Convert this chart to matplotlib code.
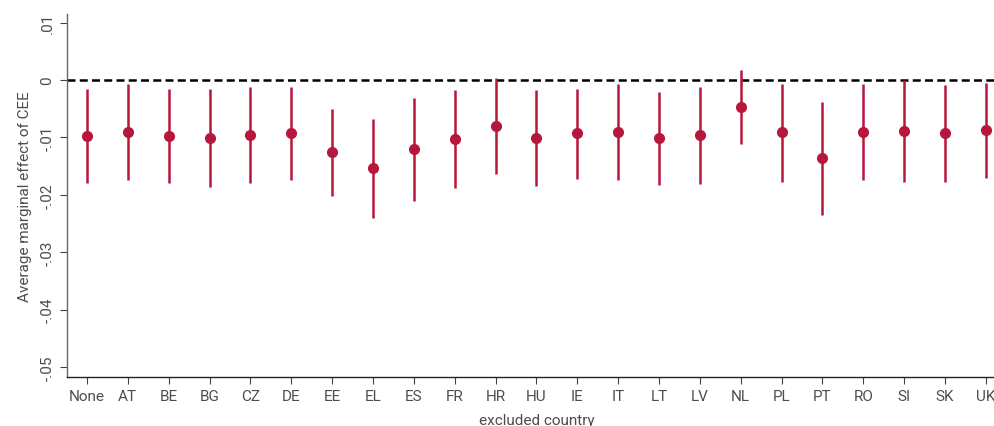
import matplotlib.pyplot as plt

plt.rcParams['font.family'] = ['Roboto', 'DejaVu Sans']

countries = ['None', 'AT', 'BE', 'BG', 'CZ', 'DE', 'EE', 'EL', 'ES', 'FR', 'HR', 'HU',
             'IE', 'IT', 'LT', 'LV', 'NL', 'PL', 'PT', 'RO', 'SI', 'SK', 'UK']
ame = [-0.00977, -0.00902, -0.00972, -0.01012, -0.00955, -0.0092, -0.01256, -0.01535,
       -0.01198, -0.01018, -0.00797, -0.01012, -0.0093, -0.00896, -0.01007, -0.0096,
       -0.0046, -0.00913, -0.01366, -0.00902, -0.0089, -0.0092, -0.00878]
ci_hi = [-0.00159, -0.00059, -0.00159, -0.00159, -0.00112, -0.00112, -0.00505, -0.00681,
         -0.00315, -0.00176, 0.00033, -0.00176, -0.00159, -0.00071, -0.0021, -0.00124,
         0.00172, -0.00071, -0.00385, -0.00071, 0.0, -0.00089, -0.00054]
ci_lo = [-0.0179, -0.01744, -0.0179, -0.0186, -0.0179, -0.01744, -0.0202, -0.0240,
         -0.02104, -0.01878, -0.01639, -0.01843, -0.0172, -0.01738, -0.01831, -0.01814,
         -0.01117, -0.01779, -0.02348, -0.01738, -0.01773, -0.01773, -0.01703]
yticks = [0.01, 0, -0.01, -0.02, -0.03, -0.04, -0.05]
ytick_labels = ['.01', '0', '-.01', '-.02', '-.03', '-.04', '-.05']

red = '#b8173c'
txt = '#4d4d4d'

fig = plt.figure(figsize=(9.95, 4.27), dpi=100)
ax = fig.add_axes([0.0673, 0.1155, 0.944, 0.849])

x = list(range(len(countries)))
ax.axhline(0, color='black', lw=1.8, ls=(0, (3.2, 1.7)), zorder=1)
ax.vlines(x, ci_lo, ci_hi, color=red, lw=1.8, zorder=2)
ax.plot(x, ame, 'o', color=red, ms=7, zorder=3)

ax.set_xlim(-0.49, 22.5)
ax.set_ylim(-0.0517, 0.0115)
ax.set_xticks(x)
ax.set_xticklabels(countries, fontsize=11, color=txt)
ax.set_yticks(yticks)
ax.set_yticklabels(ytick_labels, fontsize=11, color=txt, rotation=90, va='center')
ax.tick_params(length=5, width=0.8, color='#444444', pad=4)
ax.set_xlabel('excluded country', fontsize=11, color=txt, labelpad=7)
ax.set_ylabel('Average marginal effect of CEE', fontsize=11, color=txt, labelpad=6)

for s in ['top', 'right']:
    ax.spines[s].set_visible(False)
ax.spines['left'].set_color('#666666')
ax.spines['bottom'].set_color('#222222')
ax.spines['left'].set_linewidth(1.0)
ax.spines['bottom'].set_linewidth(1.0)

fig.savefig('out.png', dpi=100)
